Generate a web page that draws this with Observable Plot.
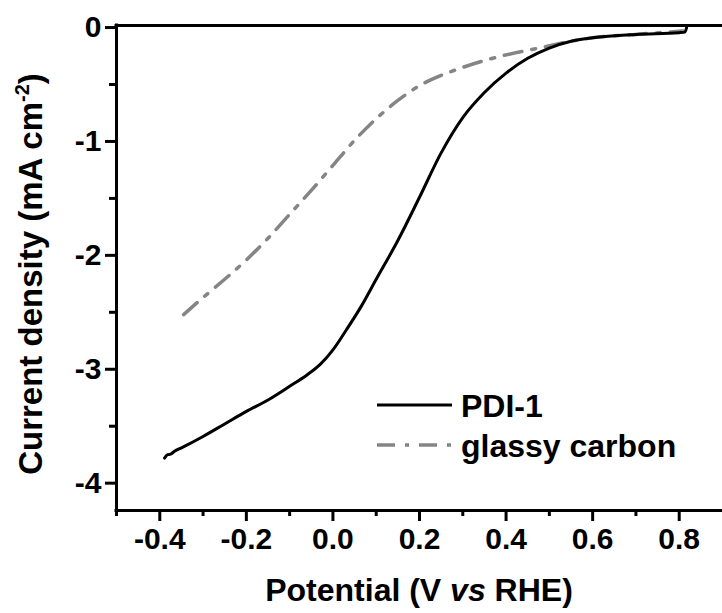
<!DOCTYPE html>
<html>
<head>
<meta charset="utf-8">
<script src="https://cdn.jsdelivr.net/npm/d3@7"></script>
<script src="https://cdn.jsdelivr.net/npm/@observablehq/plot@0.6"></script>
<style>
  html, body { margin: 0; padding: 0; background: #fff; }
  #chart svg { display: block; }
</style>
</head>
<body>
<div id="chart"></div>
<script>
// ---- data ----
const pdiX = [-0.389, -0.382, -0.375, -0.366, -0.35, -0.30, -0.25, -0.20, -0.15, -0.10, -0.06, -0.03, 0.00, 0.03, 0.065, 0.10, 0.15, 0.20, 0.25, 0.30, 0.35, 0.40, 0.45, 0.50, 0.55, 0.60, 0.70, 0.80, 0.813, 0.817];
const pdiY = [-3.78, -3.75, -3.745, -3.72, -3.69, -3.59, -3.48, -3.37, -3.27, -3.15, -3.05, -2.96, -2.83, -2.66, -2.45, -2.21, -1.87, -1.49, -1.10, -0.79, -0.57, -0.40, -0.27, -0.18, -0.12, -0.09, -0.06, -0.045, -0.04, -0.003];
const gcX = [-0.345, -0.30, -0.25, -0.20, -0.15, -0.10, -0.05, 0.00, 0.05, 0.10, 0.15, 0.20, 0.25, 0.30, 0.35, 0.40, 0.45, 0.50, 0.55, 0.60, 0.70, 0.809];
const gcY = [-2.52, -2.37, -2.21, -2.04, -1.85, -1.64, -1.43, -1.21, -0.99, -0.80, -0.64, -0.51, -0.42, -0.35, -0.29, -0.24, -0.20, -0.16, -0.12, -0.09, -0.06, -0.03];
const seriesNames = ["PDI-1", "glassy carbon"];
const xDomain = [-0.5, 0.9];
const yDomain = [-4.24, 0.018];
const xMajor = [-0.4, -0.2, 0.0, 0.2, 0.4, 0.6, 0.8];
const xMinor = [-0.5, -0.3, -0.1, 0.1, 0.3, 0.5, 0.7];
const yMajor = [0, -1, -2, -3, -4];
const yMinor = [-0.5, -1.5, -2.5, -3.5];
const xTickLabels = ["-0.4", "-0.2", "0.0", "0.2", "0.4", "0.6", "0.8"];
const yTickLabels = ["0", "-1", "-2", "-3", "-4"];
const xTitle = ["Potential (V ", "vs", " RHE)"];
const yTitle = ["Current density (mA cm", "-2", ")"];

const FONT = "'Liberation Sans', Arial, Helvetica, sans-serif";
const GRAY = "#858585";
const DASH = "18,10,4,10";

const chart = Plot.plot({
  width: 722,
  height: 613,
  marginLeft: 116,
  marginRight: 0,
  marginTop: 25,
  marginBottom: 103,
  style: { fontFamily: FONT, background: "#fff", color: "#000" },
  x: { domain: xDomain, label: null, axis: null },
  y: { domain: yDomain, label: null, axis: null },
  marks: [
    Plot.line(gcX, { x: gcX, y: gcY, stroke: GRAY, strokeWidth: 3.5, strokeDasharray: DASH, curve: "monotone-x" }),
    Plot.line(pdiX, { x: pdiX, y: pdiY, stroke: "#000", strokeWidth: 3, curve: "monotone-x" }),
    // tick marks
    Plot.axisX(xMinor, { tickSize: 6, tickFormat: () => "", strokeWidth: 3, label: null }),
    Plot.axisY(yMinor, { tickSize: 7, tickFormat: () => "", strokeWidth: 3, label: null }),
    Plot.axisX(xMajor, { tickSize: 11, tickFormat: () => "", strokeWidth: 3, label: null }),
    Plot.axisY(yMajor, { tickSize: 11, tickFormat: () => "", strokeWidth: 3, label: null }),
    // tick labels
    Plot.text(xMajor, { x: d => d, text: (d, i) => xTickLabels[i], frameAnchor: "bottom", lineAnchor: "top", dy: 17,
      fontSize: 30, fontWeight: "bold", fontFamily: FONT, fill: "#000" }),
    Plot.text(yMajor, { y: d => d, text: (d, i) => yTickLabels[i], frameAnchor: "left", textAnchor: "end", dx: -15,
      fontSize: 30, fontWeight: "bold", fontFamily: FONT, fill: "#000" }),
    // spines
    Plot.ruleY(yDomain, { strokeWidth: 3, strokeLinecap: "square" }),
    Plot.ruleX([xDomain[0]], { strokeWidth: 3, strokeLinecap: "square" })
  ]
});

document.getElementById("chart").appendChild(chart);

const svg = d3.select(chart);

// axis titles and legend (layout annotations)
const g = svg.append("g")
  .style("font-family", FONT)
  .style("font-weight", "bold")
  .attr("fill", "#000");

const xt = g.append("text")
  .attr("x", 419).attr("y", 601)
  .attr("text-anchor", "middle")
  .style("font-size", "32px");
xt.append("tspan").text(xTitle[0]);
xt.append("tspan").style("font-style", "italic").text(xTitle[1]);
xt.append("tspan").text(xTitle[2]);

const yt = g.append("text")
  .attr("transform", "translate(42,274) rotate(-90)")
  .attr("text-anchor", "middle")
  .style("font-size", "33px");
yt.append("tspan").text(yTitle[0]);
yt.append("tspan").style("font-size", "20px").attr("dy", -13).text(yTitle[1]);
yt.append("tspan").attr("dy", 13).text(yTitle[2]);

// legend
const legendY = [405, 445];
g.append("line").attr("x1", 377).attr("x2", 452).attr("y1", legendY[0]).attr("y2", legendY[0])
  .attr("stroke", "#000").attr("stroke-width", 3);
g.append("line").attr("x1", 377).attr("x2", 452).attr("y1", legendY[1]).attr("y2", legendY[1])
  .attr("stroke", GRAY).attr("stroke-width", 3.5).attr("stroke-dasharray", DASH);
seriesNames.forEach((name, i) => {
  g.append("text").attr("x", 461).attr("y", legendY[i]).attr("dy", "0.36em")
    .attr("text-anchor", "start")
    .style("font-size", "32px").text(name);
});
</script>
</body>
</html>
